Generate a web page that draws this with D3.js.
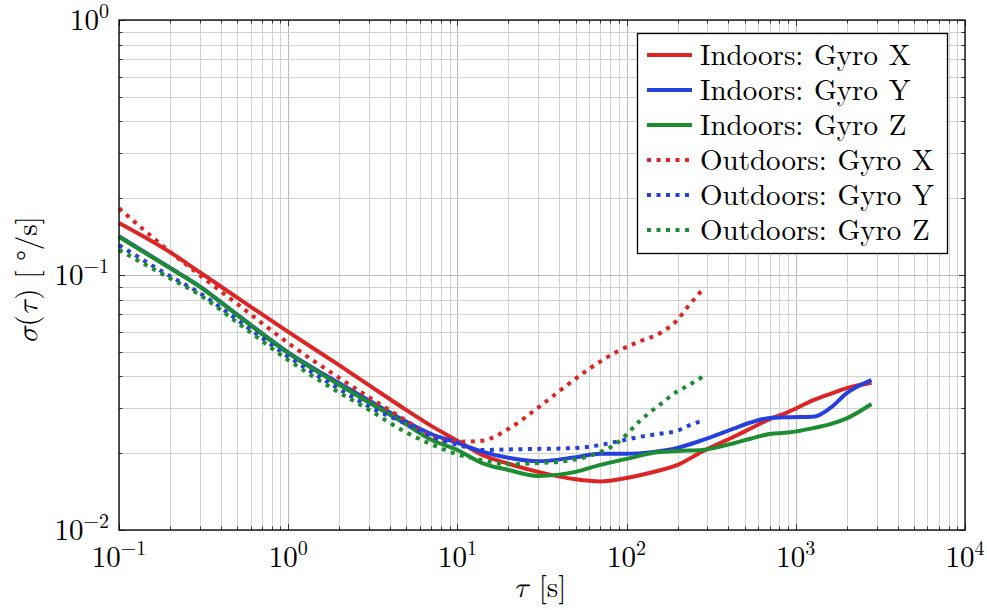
<!DOCTYPE html>
<html>
<head>
<meta charset="utf-8">
<script src="https://cdn.jsdelivr.net/npm/d3@7"></script>
<style>
  body { margin: 0; background: #fff; }
</style>
</head>
<body>
<div id="graph"></div>
<script>
// averaging time tau [s]
const tauIndoor = [0.1, 0.2, 0.3, 0.5, 1, 2, 3, 5, 7, 10, 14, 20, 30, 50, 70, 100, 140, 200, 280, 430, 540, 700, 900, 1270, 1600, 2000, 2800]
const tauOutdoor = [0.1, 0.2, 0.3, 0.5, 1, 2, 3, 5, 7, 10, 14, 20, 30, 45, 60, 90, 120, 160, 200, 230, 280]

// allan deviation [deg/s]
const indoorX = [0.160, 0.123, 0.1026, 0.0815, 0.0598, 0.0443, 0.0370, 0.0295, 0.0256, 0.0224, 0.0197, 0.0182, 0.0169, 0.0158, 0.0155, 0.0160, 0.0168, 0.0180, 0.0203, 0.0232, 0.0250, 0.0272, 0.0290, 0.0323, 0.0342, 0.0360, 0.0378]
const indoorY = [0.142, 0.1068, 0.0903, 0.0699, 0.0497, 0.0376, 0.0322, 0.0266, 0.0238, 0.0220, 0.0203, 0.0192, 0.0186, 0.0193, 0.0199, 0.0199, 0.0202, 0.0210, 0.0225, 0.0250, 0.0264, 0.0275, 0.0277, 0.0278, 0.0301, 0.0344, 0.0387]
const indoorZ = [0.141, 0.1065, 0.0900, 0.0696, 0.0494, 0.0371, 0.0316, 0.0259, 0.0226, 0.0206, 0.0183, 0.0172, 0.0163, 0.0169, 0.0180, 0.0190, 0.0200, 0.0204, 0.0206, 0.0219, 0.0228, 0.0238, 0.0241, 0.0251, 0.0260, 0.0274, 0.0312]
const outdoorX = [0.1827, 0.1234, 0.0999, 0.0770, 0.0541, 0.0395, 0.0332, 0.0268, 0.0233, 0.0222, 0.0224, 0.0249, 0.0302, 0.0372, 0.0428, 0.0505, 0.0550, 0.0595, 0.0667, 0.0751, 0.0873]
const outdoorY = [0.131, 0.0990, 0.0850, 0.0667, 0.0478, 0.0357, 0.0305, 0.0260, 0.0233, 0.0216, 0.0206, 0.0207, 0.0208, 0.0209, 0.0212, 0.0223, 0.0232, 0.0239, 0.0245, 0.0256, 0.0268]
const outdoorZ = [0.1253, 0.0971, 0.0835, 0.0651, 0.0464, 0.0346, 0.0296, 0.0241, 0.0217, 0.0198, 0.0188, 0.0181, 0.0183, 0.0187, 0.0195, 0.0222, 0.0268, 0.0313, 0.0350, 0.0368, 0.0398]

const labels = ['Indoors: Gyro X', 'Indoors: Gyro Y', 'Indoors: Gyro Z', 'Outdoors: Gyro X', 'Outdoors: Gyro Y', 'Outdoors: Gyro Z']
const xExponents = [-1, 0, 1, 2, 3, 4]
const yExponents = [-2, -1, 0]

const red = '#dc2626'
const blue = '#2640dc'
const green = '#1e8c30'

const series = [
  {name: labels[0], tau: tauIndoor, vals: indoorX, color: red, dotted: false},
  {name: labels[1], tau: tauIndoor, vals: indoorY, color: blue, dotted: false},
  {name: labels[2], tau: tauIndoor, vals: indoorZ, color: green, dotted: false},
  {name: labels[3], tau: tauOutdoor, vals: outdoorX, color: red, dotted: true},
  {name: labels[4], tau: tauOutdoor, vals: outdoorY, color: blue, dotted: true},
  {name: labels[5], tau: tauOutdoor, vals: outdoorZ, color: green, dotted: true}
]

const width = 987
const height = 610
const m = {top: 20, right: 22, bottom: 80, left: 119}
const greek = '"Latin Modern Math", "Liberation Serif", serif'

const svg = d3.select('#graph').append('svg')
  .attr('width', width)
  .attr('height', height)
  .attr('font-family', '"Latin Modern Roman", "Liberation Serif", serif')

const x = d3.scaleLog().domain([0.1, 1e4]).range([m.left, width - m.right])
const y = d3.scaleLog().domain([0.01, 1]).range([height - m.bottom, m.top])

const isMajor = v => Math.abs(Math.log10(v) - Math.round(Math.log10(v))) < 1e-9
const xt = x.ticks()
const yt = y.ticks()

// grid
const grid = svg.append('g')
grid.selectAll('.gx').data(xt).join('line')
  .attr('x1', d => Math.round(x(d)) + 0.5).attr('x2', d => Math.round(x(d)) + 0.5)
  .attr('y1', m.top).attr('y2', height - m.bottom)
  .attr('stroke', d => isMajor(d) ? '#bababa' : '#d2d2d2')
  .attr('stroke-width', 1)
grid.selectAll('.gy').data(yt).join('line')
  .attr('y1', d => Math.round(y(d)) + 0.5).attr('y2', d => Math.round(y(d)) + 0.5)
  .attr('x1', m.left).attr('x2', width - m.right)
  .attr('stroke', d => isMajor(d) ? '#bababa' : '#d2d2d2')
  .attr('stroke-width', 1)

// ticks (inside, all four sides)
const ticks = svg.append('g').attr('stroke', '#333').attr('stroke-width', 1)
const tl = d => isMajor(d) ? 6 : 3.5
xt.forEach(d => {
  const px = Math.round(x(d)) + 0.5
  ticks.append('line').attr('x1', px).attr('x2', px).attr('y1', height - m.bottom).attr('y2', height - m.bottom - tl(d))
  ticks.append('line').attr('x1', px).attr('x2', px).attr('y1', m.top).attr('y2', m.top + tl(d))
})
yt.forEach(d => {
  const py = Math.round(y(d)) + 0.5
  ticks.append('line').attr('y1', py).attr('y2', py).attr('x1', m.left).attr('x2', m.left + tl(d))
  ticks.append('line').attr('y1', py).attr('y2', py).attr('x1', width - m.right).attr('x2', width - m.right - tl(d))
})

// curves
const line = d3.line()
  .x(d => x(d[0]))
  .y(d => y(d[1]))
  .curve(d3.curveMonotoneX)

svg.append('g').selectAll('path').data(series).join('path')
  .attr('d', s => line(s.tau.map((t, i) => [t, s.vals[i]])))
  .attr('fill', 'none')
  .attr('stroke', s => s.color)
  .attr('stroke-width', 4)
  .attr('stroke-dasharray', s => s.dotted ? '4,5.5' : null)
  .attr('stroke-linejoin', 'round')

// frame
svg.append('rect')
  .attr('x', m.left).attr('y', m.top)
  .attr('width', width - m.left - m.right).attr('height', height - m.top - m.bottom)
  .attr('fill', 'none').attr('stroke', '#000').attr('stroke-width', 1.3)

// tick labels
const pow = (sel, e) => {
  sel.append('tspan').text('10')
  sel.append('tspan').attr('dy', -12).attr('font-size', 20).text(String(e).replace('-', '\u2212'))
}
yExponents.forEach(e => {
  const t = svg.append('text')
    .attr('x', m.left - 10).attr('y', y(Math.pow(10, e)) + 10)
    .attr('text-anchor', 'end').attr('font-size', 29)
  pow(t, e)
})
xExponents.forEach(e => {
  const t = svg.append('text')
    .attr('x', x(Math.pow(10, e))).attr('y', height - m.bottom + 37)
    .attr('text-anchor', 'middle').attr('font-size', 29)
  pow(t, e)
})

// axis labels
const xl = svg.append('text')
  .attr('x', (m.left + width - m.right) / 2 - 2).attr('y', 597)
  .attr('text-anchor', 'middle').attr('font-size', 29)
xl.append('tspan').attr('font-style', 'italic').attr('font-family', greek).text('τ')
xl.append('tspan').text(' [s]')

const yl = svg.append('text')
  .attr('transform', `translate(37,${(m.top + height - m.bottom) / 2 + 5}) rotate(-90)`)
  .attr('text-anchor', 'middle').attr('font-size', 29)
yl.append('tspan').attr('font-style', 'italic').attr('font-family', greek).text('σ')
yl.append('tspan').text('(')
yl.append('tspan').attr('font-style', 'italic').attr('font-family', greek).text('τ')
yl.append('tspan').text(') [ °/s]')

// legend
const lg = svg.append('g')
lg.append('rect')
  .attr('x', 637.5).attr('y', 33.5).attr('width', 310).attr('height', 220)
  .attr('fill', '#fff').attr('stroke', '#000').attr('stroke-width', 1.3)
series.forEach((s, i) => {
  const cy = 55 + i * 35
  lg.append('line')
    .attr('x1', 647).attr('x2', 692).attr('y1', cy).attr('y2', cy)
    .attr('stroke', s.color).attr('stroke-width', 4)
    .attr('stroke-dasharray', s.dotted ? '4,5.5' : null)
  lg.append('text')
    .attr('x', 700).attr('y', cy + 10)
    .attr('font-size', 29).attr('word-spacing', 1)
    .text(s.name)
})
</script>
</body>
</html>
